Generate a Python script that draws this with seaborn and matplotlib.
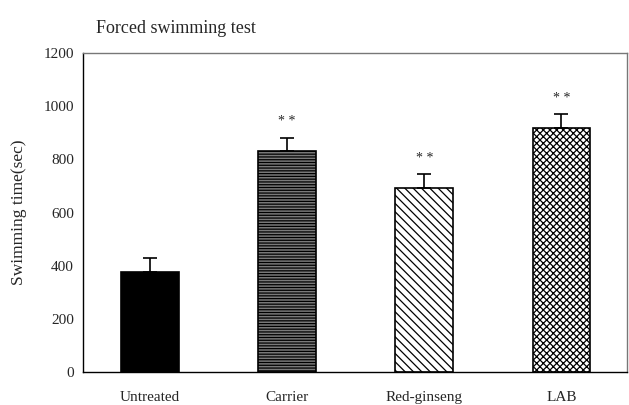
import matplotlib
matplotlib.use("Agg")
import matplotlib.pyplot as plt
import pandas as pd
import seaborn as sns

groups = ["Untreated", "Carrier", "Red-ginseng", "LAB"]
swim_time = [378, 832, 693, 918]
swim_sem = [50, 50, 52, 52]
signif = ["", "* *", "* *", "* *"]
fills = ["black", "#7a7a7a", "white", "white"]
hatches = ["", "------", "\\\\\\\\", "xxxxx"]

df = pd.DataFrame({"group": groups, "time": swim_time})

sns.set_theme(style="white")
plt.rcParams["font.family"] = ["Liberation Serif", "DejaVu Serif"]
plt.rcParams["hatch.linewidth"] = 0.9

fig = plt.figure(figsize=(6.29, 4.05), dpi=100)
ax = fig.add_axes([0.132, 0.0815, 0.865, 0.7875])

sns.barplot(data=df, x="group", y="time", hue="group", palette=fills,
            width=0.42, edgecolor="black", linewidth=1.2, legend=False, ax=ax)
for patch, h, fc in zip(ax.patches, hatches, fills):
    patch.set_hatch(h)
    patch.set_facecolor(fc)
    patch.set_edgecolor("black")

xs = range(len(groups))
ax.errorbar(xs, swim_time, yerr=[[0] * len(groups), swim_sem], fmt="none",
            ecolor="black", elinewidth=1.2, capsize=5, capthick=1.2)
for x, y, e, s in zip(xs, swim_time, swim_sem, signif):
    if s:
        ax.text(x, y + e + 35, s, ha="center", va="bottom", fontsize=10)

ax.set_ylim(0, 1200)
ax.set_yticks(range(0, 1201, 200))
ax.set_xlim(-0.49, 3.48)
ax.set_xlabel("")
ax.set_ylabel("Swimming time(sec)", fontsize=12.5, labelpad=12)
ax.tick_params(axis="both", labelsize=11, length=3, direction="out", color="black")
ax.tick_params(axis="x", pad=14, length=0)
for sp in ax.spines.values():
    sp.set_color("#777777")
    sp.set_linewidth(1.0)
ax.spines["left"].set_color("black")
ax.spines["bottom"].set_color("black")

fig.text(0.152, 0.93, "Forced swimming test", fontsize=13, ha="left", va="center")

fig.savefig("out.png", dpi=100)
